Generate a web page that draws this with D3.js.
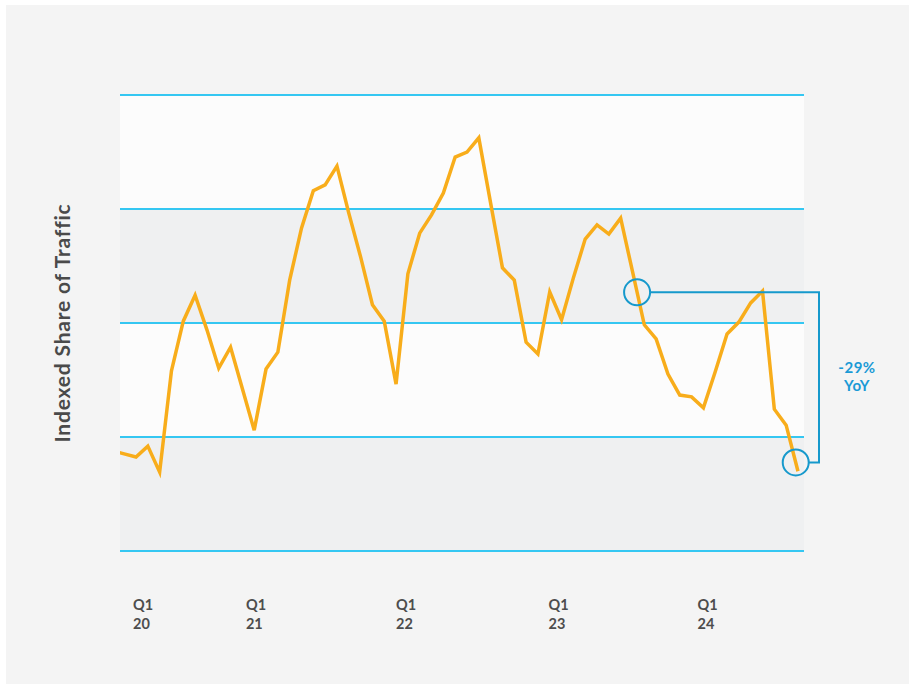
<!DOCTYPE html>
<html>
<head>
<meta charset="utf-8">
<script src="https://cdn.jsdelivr.net/npm/d3@7"></script>
<style>
  html, body { margin: 0; padding: 0; background: #ffffff; }
  svg { display: block; }
</style>
</head>
<body>
<svg id="chart" width="909" height="685"></svg>
<script>
// Indexed share of traffic, one value per period (index -2 and -1 fall before the visible window)
const periodIndex = [-2, -1, 0, 1, 2, 3, 4, 5, 6, 7, 8, 9, 10, 11, 12, 13, 14, 15, 16, 17, 18, 19,
  20, 21, 22, 23, 24, 25, 26, 27, 28, 29, 30, 31, 32, 33, 34, 35, 36, 37, 38, 39, 40, 41,
  42, 43, 44, 45, 46, 47, 48, 49, 50, 51, 52, 53, 54, 55, 56];
const shareValues = [22.0, 21.3, 20.6, 23.0, 17.3, 39.5, 50.4, 56.1, 48.5, 40.1, 44.7, 35.6,
  26.5, 39.9, 43.6, 59.4, 70.8, 79.0, 80.3, 84.4, 74.1, 64.5, 54.0, 50.4, 36.6, 60.8,
  69.7, 73.7, 78.5, 86.4, 87.5, 90.6, 76.3, 62.1, 59.4, 45.8, 43.2, 56.8, 50.7, 59.9,
  68.4, 71.5, 69.5, 73.0, 61.3, 49.6, 46.5, 38.8, 34.2, 33.8, 31.4, 39.3, 47.6, 50.2,
  54.4, 57.0, 31.1, 27.6, 17.5];

// Quarter labels and where they sit along the period axis
const tickQuarters = ["Q1", "Q1", "Q1", "Q1", "Q1"];
const tickYears = ["20", "21", "22", "23", "24"];
const tickIndex = [-0.25, 9.3, 22.0, 34.9, 47.5];

// Horizontal reference levels (bands alternate between them)
const gridLevels = [0, 25, 50, 75, 100];

// Year-over-year comparison markers (positions on the period axis)
const yoyFrom = 42.39;
const yoyTo = 55.81;
const yoyLabel = ["-29%", "YoY"];

const svg = d3.select("#chart");
const W = 909, H = 685;
const margin = { left: 120, top: 95, right: 105, bottom: 134 };
const iw = W - margin.left - margin.right;
const ih = H - margin.top - margin.bottom;

// Background panel
svg.append("rect")
  .attr("x", 6).attr("y", 5).attr("width", 903).attr("height", 679)
  .attr("fill", "#f4f4f4");

const g = svg.append("g").attr("transform", `translate(${margin.left},${margin.top})`);

const x = d3.scaleLinear().domain([-1.354, 56.51]).range([0, iw]);
const y = d3.scaleLinear().domain([0, 100]).range([ih, 0]);

// Alternating bands
const bands = d3.pairs(gridLevels);
g.selectAll("rect.band")
  .data(bands)
  .join("rect")
  .attr("class", "band")
  .attr("x", 0)
  .attr("width", iw)
  .attr("y", d => y(d[1]))
  .attr("height", d => y(d[0]) - y(d[1]))
  .attr("fill", (d, i) => (i % 2 === 0 ? "#eff0f1" : "#fcfcfc"));

// Grid lines
g.selectAll("line.grid")
  .data(gridLevels)
  .join("line")
  .attr("class", "grid")
  .attr("x1", 0).attr("x2", iw)
  .attr("y1", d => y(d)).attr("y2", d => y(d))
  .attr("stroke", "#35c7f2")
  .attr("stroke-width", 2);

// Clip the series to the plot window
svg.append("defs").append("clipPath").attr("id", "plotClip")
  .append("rect").attr("x", 0).attr("y", -20).attr("width", iw).attr("height", ih + 40);

const series = periodIndex.map((p, i) => ({ p, v: shareValues[i] }));
const line = d3.line().x(d => x(d.p)).y(d => y(d.v));

g.append("path")
  .datum(series)
  .attr("clip-path", "url(#plotClip)")
  .attr("fill", "none")
  .attr("stroke", "#f8ad1b")
  .attr("stroke-width", 3.5)
  .attr("stroke-linejoin", "miter")
  .attr("d", line);

// Value of the series at a fractional period position
function valueAt(p) {
  const i = d3.bisector(d => d.p).right(series, p) - 1;
  const a = series[i], b = series[i + 1];
  const t = (p - a.p) / (b.p - a.p);
  return a.v + (b.v - a.v) * t;
}

const r = 13;
const accent = "#1699cc";
const p1 = { x: x(yoyFrom), y: y(valueAt(yoyFrom)) };
const p2 = { x: x(yoyTo), y: y(valueAt(yoyTo)) };
const bracketX = iw + 15;

g.append("path")
  .attr("fill", "none")
  .attr("stroke", accent)
  .attr("stroke-width", 2)
  .attr("d", `M${p1.x + r},${p1.y} H${bracketX} V${p2.y} H${p2.x + r}`);

g.selectAll("circle.marker")
  .data([p1, p2])
  .join("circle")
  .attr("class", "marker")
  .attr("cx", d => d.x).attr("cy", d => d.y).attr("r", r)
  .attr("fill", "none")
  .attr("stroke", accent)
  .attr("stroke-width", 2);

g.append("text")
  .attr("x", bracketX + 38)
  .attr("y", (p1.y + p2.y) / 2 - 4)
  .attr("text-anchor", "middle")
  .attr("font-family", "Lato, 'Open Sans', sans-serif")
  .attr("font-weight", 700)
  .attr("font-size", 15)
  .attr("letter-spacing", 0.5)
  .attr("fill", "#1a9ad6")
  .selectAll("tspan")
  .data(yoyLabel)
  .join("tspan")
  .attr("x", bracketX + 38)
  .attr("dy", (d, i) => (i === 0 ? 0 : 18))
  .text(d => d);

// Quarter tick labels
const ticks = g.append("g").attr("transform", `translate(0,${ih})`);
const tickG = ticks.selectAll("text.tick")
  .data(tickIndex)
  .join("text")
  .attr("class", "tick")
  .attr("x", d => x(d))
  .attr("y", 59)
  .attr("font-family", "Lato, 'Open Sans', sans-serif")
  .attr("font-weight", 700)
  .attr("font-size", 14.5)
  .attr("fill", "#4d4d4d");
tickG.append("tspan").attr("x", d => x(d)).text((d, i) => tickQuarters[i]);
tickG.append("tspan").attr("x", d => x(d)).attr("dy", 19).text((d, i) => tickYears[i]);

// Axis title
svg.append("text")
  .attr("transform", `translate(70,${margin.top + ih / 2}) rotate(-90)`)
  .attr("text-anchor", "middle")
  .attr("font-family", "Lato, 'Open Sans', sans-serif")
  .attr("font-weight", 700)
  .attr("font-size", 21)
  .attr("letter-spacing", 0.8)
  .attr("fill", "#4a4a4a")
  .text("Indexed Share of Traffic");
</script>
</body>
</html>
